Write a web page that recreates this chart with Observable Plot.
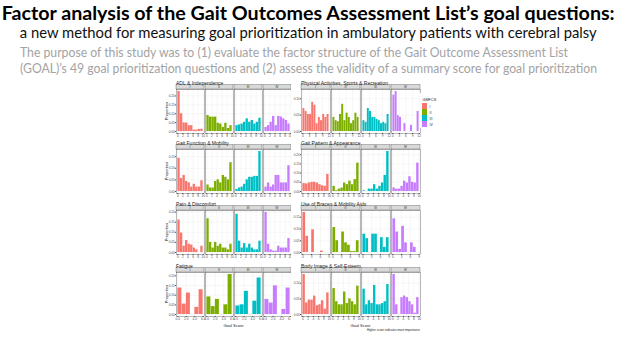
<!DOCTYPE html>
<html><head><meta charset="utf-8">
<script src="https://cdn.jsdelivr.net/npm/d3@7"></script>
<script src="https://cdn.jsdelivr.net/npm/@observablehq/plot@0.6"></script>
<style>
html,body{margin:0;padding:0;background:#fff;}
body{width:617px;height:339px;overflow:hidden;position:relative;font-family:Lato,'Open Sans',sans-serif;}
.t{position:absolute;white-space:nowrap;}
.t span{display:inline-block;}
#title{top:0;left:0;width:617px;text-align:center;font-weight:700;font-size:19px;line-height:26px;color:#000;}
#title span{transform-origin:center;}
#sub{top:23px;left:0;width:617px;text-align:center;font-size:15px;line-height:18px;color:#111;}
#sub span{transform-origin:center;}
.desc{left:20px;font-size:13.5px;line-height:16px;color:#a3a3a3;}
.desc span{transform-origin:left;}
.pan{position:absolute;}
.pan svg text{font-family:'Liberation Sans',Arial,sans-serif;}
</style></head>
<body>
<div id="title" class="t"><span data-w="613">Factor analysis of the Gait Outcomes Assessment List’s goal questions:</span></div>
<div id="sub" class="t"><span data-w="577">a new method for measuring goal prioritization in ambulatory patients with cerebral palsy</span></div>
<div class="t desc" style="top:44px"><span id="d1">The purpose of this study was to (1) evaluate the factor structure of the Gait Outcome Assessment List</span></div>
<div class="t desc" style="top:60px"><span id="d2">(GOAL)’s 49 goal prioritization questions and (2) assess the validity of a summary score for goal prioritization</span></div>
<div id="panels"></div>
<script>
// ---- categories ----
const levels = ["I", "II", "III", "IV"];
const levelColors = ["#F8766D", "#7CAE00", "#00BFC4", "#C77CFF"];
const domainTitles = [
  "ADL & Independence", "Physical Activities, Sports & Recreation",
  "Gait Function & Mobility", "Gait Pattern & Appearance",
  "Pain & Discomfort", "Use of Braces & Mobility Aids",
  "Fatigue", "Body Image & Self-Esteem"
];
const legendTitle = "GMFCS";
const yTitle = "Proportion";
const xTitle = "Goal Score";
const captionText = "Higher score indicates more importance";

// ---- goal score bins and tick labels ----
const bins12 = [0, 1, 2, 3, 4, 5, 6, 7, 8, 9, 10, 11];
const bins10 = [0, 1, 2, 3, 4, 5, 6, 7, 8, 9];
const bins9 = [0, 1, 2, 3, 4, 5, 6, 7, 8];
const bins6 = [0, 1, 2, 3, 4, 5];
const ticks12 = [0, 3, 6, 9, 12];
const ticks10 = [0, 2, 4, 6, 8, 10];
const ticks9 = [0, 3, 6, 9];
const ticks6 = [0, 2, 4, 6];

// ---- proportions per GMFCS level (I, II, III, IV) ----
const adl = [
  [0.225, 0.100, 0.048, 0.048, 0.033, 0.033, 0.008, 0.008, 0.012, 0.013],
  [0.090, 0.081, 0.081, 0.081, 0.046, 0.042, 0.023, 0.046, 0.017, 0.033],
  [0.033, 0.037, 0.042, 0.052, 0.071, 0.052, 0.062, 0.042, 0.052, 0.075],
  [0.023, 0.033, 0.052, 0.085, 0.033, 0.085, 0.081, 0.071, 0.062, 0.042]
];
const physical = [
  [0.070, 0.061, 0.052, 0.052, 0.089, 0.080, 0.024, 0.043, 0.033, 0.052, 0.043, 0.052],
  [0.043, 0.033, 0.030, 0.052, 0.083, 0.033, 0.056, 0.043, 0.024, 0.033, 0.056, 0.043],
  [0.033, 0.028, 0.070, 0.061, 0.043, 0.043, 0.037, 0.033, 0.024, 0.028, 0.024, 0.052],
  [0.111, 0.122, 0.048, 0.043, 0, 0.024, 0, 0, 0.019, 0, 0, 0.061]
];
const gaitFunction = [
  [0.143, 0.056, 0.069, 0.043, 0.037, 0.019, 0.031, 0.019, 0.019, 0.046],
  [0.028, 0.015, 0.015, 0.043, 0.050, 0.037, 0.069, 0.061, 0.050, 0.124],
  [0.009, 0.015, 0.019, 0.031, 0.050, 0.061, 0.061, 0.065, 0.065, 0.172],
  [0.019, 0.037, 0.019, 0.028, 0.069, 0.069, 0.037, 0.037, 0.037, 0.111]
];
const gaitPattern = [
  [0.043, 0.041, 0.046, 0.050, 0.050, 0.046, 0.037, 0.031, 0.028, 0.093],
  [0.028, 0.004, 0.013, 0.019, 0.046, 0.037, 0.056, 0.037, 0.065, 0.154],
  [0.004, 0, 0.013, 0.013, 0.037, 0.013, 0.028, 0.046, 0.087, 0.217],
  [0.019, 0.013, 0.013, 0.028, 0.056, 0.046, 0.080, 0.050, 0.046, 0.154]
];
const pain = [
  [0.161, 0.096, 0.031, 0.059, 0.041, 0.037, 0.022, 0.013, 0, 0.031],
  [0.167, 0.050, 0.022, 0.050, 0.031, 0.041, 0.022, 0.022, 0.013, 0.041],
  [0.189, 0.056, 0.022, 0.044, 0.022, 0.041, 0.022, 0.013, 0.013, 0.056],
  [0.198, 0.041, 0.013, 0.007, 0.007, 0.031, 0.022, 0.022, 0.022, 0.069]
];
const braces = [
  [0.170, 0.069, 0, 0.096, 0, 0, 0.006, 0, 0],
  [0.106, 0.050, 0, 0.087, 0.041, 0.031, 0.004, 0.004, 0.050],
  [0.078, 0.059, 0, 0.078, 0.078, 0, 0.063, 0.022, 0.063],
  [0.143, 0.087, 0.013, 0.111, 0.041, 0, 0.041, 0.022, 0]
];
const fatigue = [
  [0.137, 0.054, 0.111, 0, 0.037, 0.128],
  [0.091, 0.041, 0.078, 0, 0.050, 0.207],
  [0.044, 0.050, 0.120, 0, 0.069, 0.189],
  [0.078, 0.059, 0.148, 0, 0.026, 0.137]
];
const bodyImage = [
  [0.128, 0.037, 0.046, 0.046, 0.059, 0.028, 0.031, 0.044, 0.017, 0.069],
  [0.083, 0.041, 0.031, 0.031, 0.072, 0.035, 0.050, 0.041, 0.031, 0.091],
  [0.081, 0.031, 0.044, 0.035, 0.093, 0.031, 0.031, 0.035, 0.041, 0.096],
  [0.128, 0.031, 0, 0.054, 0.059, 0.054, 0.041, 0.031, 0.004, 0.054]
];

// ---- layout ----
const FONT = "'Liberation Sans', Arial, sans-serif";
const colLeft = [157, 291];
const colWidth = [136, 131];
const colMargin = [17, 9];
const rowTop = [78, 138, 199, 261];
const panels = [
  {title: domainTitles[0], series: adl, bins: bins10, ticks: ticks10},
  {title: domainTitles[1], series: physical, bins: bins12, ticks: ticks12},
  {title: domainTitles[2], series: gaitFunction, bins: bins10, ticks: ticks10},
  {title: domainTitles[3], series: gaitPattern, bins: bins10, ticks: ticks10},
  {title: domainTitles[4], series: pain, bins: bins10, ticks: ticks10},
  {title: domainTitles[5], series: braces, bins: bins9, ticks: ticks9},
  {title: domainTitles[6], series: fatigue, bins: bins6, ticks: ticks6},
  {title: domainTitles[7], series: bodyImage, bins: bins10, ticks: ticks10}
];

const host = document.getElementById("panels");
const TOP = 11, PLOTH = 44;

panels.forEach((cfg, idx) => {
  const col = idx % 2, row = Math.floor(idx / 2);
  const lastRow = row === 3;
  const mBottom = lastRow ? 16 : 5;
  const rows = [];
  cfg.series.forEach((vals, k) => vals.forEach((p, i) => {
    if (p > 0) rows.push({level: levels[k], score: cfg.bins[i], p});
  }));
  const n = cfg.bins.length;
  const ymax = d3.max(rows, d => d.p);
  const chart = Plot.plot({
    width: colWidth[col], height: TOP + PLOTH + mBottom,
    marginTop: TOP, marginBottom: mBottom, marginLeft: colMargin[col], marginRight: 1,
    style: {fontFamily: FONT, fontSize: "3.2px", color: "#4d4d4d", background: "white", overflow: "visible"},
    fx: {domain: levels, padding: 0.035, axis: null, label: null},
    x: {domain: [cfg.bins[0] - 0.05 * n, cfg.bins[0] + 1.05 * n], ticks: cfg.ticks, tickSize: 1, tickPadding: 0.6, label: null},
    y: {domain: [-0.05 * ymax, 1.05 * ymax], ticks: 4, tickSize: 1, tickPadding: 0.6, label: null, tickFormat: ".2f"},
    color: {domain: levels, range: levelColors},
    marks: [
      Plot.gridX({ticks: cfg.ticks, stroke: "#ebebeb", strokeOpacity: 1, strokeWidth: 0.4}),
      Plot.gridY({ticks: 4, stroke: "#ebebeb", strokeOpacity: 1, strokeWidth: 0.4}),
      Plot.rectY(rows, {fx: "level", x1: "score", x2: d => d.score + 1, y1: 0, y2: "p", fill: "level", insetLeft: 0.12, insetRight: 0.12}),
      Plot.frame({stroke: "#333", strokeWidth: 0.35})
    ]
  });
  const svg = d3.select(chart);
  const fx = chart.scale("fx");
  const bw = fx.bandwidth;
  for (const lv of levels) {
    const x0 = fx.apply(lv);
    svg.append("rect").attr("x", x0).attr("y", TOP - 4.6).attr("width", bw).attr("height", 4.6)
      .attr("fill", "#d9d9d9").attr("stroke", "#333").attr("stroke-width", 0.3);
    svg.append("text").attr("x", x0 + bw / 2).attr("y", TOP - 2.3).attr("text-anchor", "middle")
      .attr("dominant-baseline", "central").attr("font-size", "3.2px").attr("fill", "#1a1a1a").text(lv);
  }
  const r0 = fx.apply(levels[0]), r1 = fx.apply(levels[levels.length - 1]) + bw;
  svg.append("text").attr("x", r0).attr("y", 4.6).attr("font-size", "5px").attr("fill", "#222")
    .attr("text-anchor", "start").attr("dominant-baseline", "central").text(cfg.title);
  if (col === 0) {
    svg.append("text").attr("transform", `translate(${r0 - 10},${TOP + PLOTH / 2}) rotate(-90)`)
      .attr("text-anchor", "middle").attr("dominant-baseline", "central")
      .attr("font-size", "4px").attr("fill", "#222").text(yTitle);
  }
  if (lastRow) {
    svg.append("text").attr("x", (r0 + r1) / 2).attr("y", TOP + PLOTH + 9)
      .attr("text-anchor", "middle").attr("dominant-baseline", "central")
      .attr("font-size", "4px").attr("fill", "#222").text(xTitle);
    if (col === 1) {
      svg.append("text").attr("x", r1).attr("y", TOP + PLOTH + 14)
        .attr("text-anchor", "end").attr("dominant-baseline", "central")
        .attr("font-size", "3px").attr("fill", "#222").text(captionText);
    }
  }
  const div = document.createElement("div");
  div.className = "pan";
  div.style.left = colLeft[col] + "px";
  div.style.top = rowTop[row] + "px";
  div.appendChild(chart);
  host.appendChild(div);
});

// legend
const legend = Plot.plot({
  width: 20, height: 35, marginTop: 9, marginBottom: 1, marginLeft: 2, marginRight: 13,
  style: {fontFamily: FONT, fontSize: "3.4px", color: "#222", background: "white", overflow: "visible"},
  x: {axis: null, domain: ["k"], padding: 0},
  y: {axis: null, domain: levels, padding: 0.04},
  color: {domain: levels, range: levelColors},
  marks: [
    Plot.cell(levels, {x: () => "k", y: d => d, fill: d => d}),
    Plot.text(levels, {x: () => "k", y: d => d, text: d => d, dx: 4.5, textAnchor: "start"}),
    Plot.text([legendTitle], {frameAnchor: "top-left", dy: -4.5, text: d => d, textAnchor: "start", fontSize: "3.8px"})
  ]
});
const ld = document.createElement("div");
ld.className = "pan";
ld.style.left = "420px";
ld.style.top = "93px";
ld.appendChild(legend);
host.appendChild(ld);

// fit header text widths
document.querySelectorAll("[data-w]").forEach(el => {
  const w = el.getBoundingClientRect().width;
  el.style.transform = `scaleX(${+el.dataset.w / w})`;
});
const d2 = document.getElementById("d2"), d1 = document.getElementById("d1");
const descScale = 577 / d2.getBoundingClientRect().width;
d1.style.transform = `scaleX(${descScale})`;
d2.style.transform = `scaleX(${descScale})`;
</script>
</body></html>
